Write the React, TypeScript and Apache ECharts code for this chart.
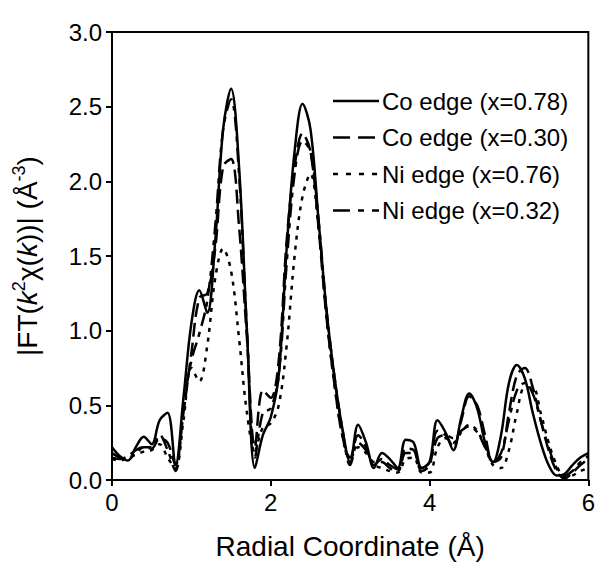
import React, { useEffect, useRef } from "react";
import * as echarts from "echarts";

const radius = [
  0.0, 0.1, 0.2, 0.3, 0.4, 0.5, 0.6, 0.7, 0.8, 0.9,
  1.0, 1.1, 1.2, 1.3, 1.4, 1.5, 1.6, 1.7, 1.8, 1.9,
  2.0, 2.1, 2.2, 2.3, 2.4, 2.5, 2.6, 2.7, 2.8, 2.9,
  3.0, 3.1, 3.2, 3.3, 3.4, 3.5, 3.6, 3.7, 3.8, 3.9,
  4.0, 4.1, 4.2, 4.3, 4.4, 4.5, 4.6, 4.7, 4.8, 4.9,
  5.0, 5.1, 5.2, 5.3, 5.4, 5.5, 5.6, 5.7, 5.8, 5.9, 6.0,
];

const coEdge078 = [
  0.22, 0.16, 0.13, 0.22, 0.29, 0.24, 0.40, 0.45, 0.10, 0.55,
  1.05, 1.27, 1.12, 1.60, 2.35, 2.62, 2.10, 1.00, 0.08, 0.30,
  0.42, 0.70, 1.55, 2.20, 2.52, 2.35, 1.75, 1.15, 0.70, 0.35,
  0.12, 0.37, 0.25, 0.08, 0.18, 0.14, 0.08, 0.27, 0.25, 0.08,
  0.12, 0.40, 0.32, 0.20, 0.42, 0.58, 0.48, 0.25, 0.12, 0.30,
  0.65, 0.77, 0.68, 0.45, 0.25, 0.10, 0.03, 0.04, 0.10, 0.15, 0.18,
];

const coEdge030 = [
  0.15, 0.14, 0.16, 0.20, 0.22, 0.21, 0.28, 0.25, 0.10, 0.45,
  0.85, 1.22, 1.25, 1.55, 2.10, 2.15, 1.70, 0.95, 0.22, 0.60,
  0.55, 0.80, 1.60, 2.10, 2.32, 2.20, 1.70, 1.10, 0.65, 0.30,
  0.15, 0.30, 0.22, 0.10, 0.14, 0.10, 0.07, 0.21, 0.20, 0.06,
  0.10, 0.33, 0.30, 0.22, 0.40, 0.56, 0.50, 0.30, 0.12, 0.15,
  0.45, 0.70, 0.75, 0.62, 0.40, 0.20, 0.06, 0.01, 0.05, 0.10, 0.14,
];

const niEdge076 = [
  0.14, 0.13, 0.15, 0.17, 0.19, 0.20, 0.24, 0.15, 0.08, 0.40,
  0.75, 0.66, 0.90, 1.35, 1.55, 1.40, 0.95, 0.45, 0.20, 0.35,
  0.38, 0.50, 0.90, 1.50, 1.90, 2.05, 1.70, 1.10, 0.65, 0.30,
  0.14, 0.22, 0.18, 0.10, 0.08, 0.06, 0.05, 0.14, 0.15, 0.05,
  0.05, 0.22, 0.28, 0.25, 0.32, 0.37, 0.33, 0.22, 0.10, 0.08,
  0.20, 0.45, 0.62, 0.62, 0.45, 0.25, 0.10, 0.02, 0.03, 0.06, 0.08,
];

const niEdge032 = [
  0.18, 0.15, 0.14, 0.18, 0.22, 0.22, 0.30, 0.20, 0.06, 0.50,
  0.80, 0.98, 1.20, 1.70, 2.35, 2.55, 2.05, 1.00, 0.15, 0.45,
  0.48, 0.70, 1.45, 2.05, 2.27, 2.20, 1.75, 1.15, 0.70, 0.35,
  0.10, 0.25, 0.20, 0.12, 0.12, 0.08, 0.06, 0.18, 0.18, 0.08,
  0.12, 0.28, 0.30, 0.28, 0.33, 0.36, 0.32, 0.22, 0.12, 0.18,
  0.40, 0.60, 0.65, 0.58, 0.40, 0.22, 0.08, 0.03, 0.06, 0.12, 0.16,
];

const seriesNames = [
  "Co edge (x=0.78)",
  "Co edge (x=0.30)",
  "Ni edge (x=0.76)",
  "Ni edge (x=0.32)",
];

const FONT = "'Liberation Sans', Arial, Helvetica, sans-serif";

export default function App() {
  const ref = useRef<HTMLDivElement>(null);

  useEffect(() => {
    if (!ref.current) return;
    const chart = echarts.init(ref.current, undefined, { renderer: "svg" });

    const pairs = (vals: number[]) => radius.map((r, i) => [r, vals[i]]);
    const dashes: any[] = ["solid", [14, 6], [4, 6], [14, 6, 5, 6]];
    const legendDash: any[] = [null, [17, 8], [5, 8], [17, 8, 6, 8]];
    const allData = [coEdge078, coEdge030, niEdge076, niEdge032];

    const series = allData.map((vals, i) => ({
      name: seriesNames[i],
      type: "line",
      data: pairs(vals),
      smooth: 0.35,
      showSymbol: false,
      symbol: "none",
      lineStyle: { color: "#000", width: 2.5, type: dashes[i] },
      itemStyle: { color: "#000" },
    }));

    const legendTop = 101;
    const legendStep = 36.5;
    const legendGraphics: any[] = [];
    seriesNames.forEach((name, i) => {
      const y = legendTop + i * legendStep;
      const lineStyle: any = { stroke: "#000", lineWidth: 2.5 };
      if (legendDash[i]) lineStyle.lineDash = legendDash[i];
      legendGraphics.push({
        type: "line",
        shape: { x1: 333, y1: y, x2: 379, y2: y },
        style: lineStyle,
      });
      legendGraphics.push({
        type: "text",
        x: 382,
        y: y,
        style: {
          text: name,
          font: `24px ${FONT}`,
          fill: "#000",
          textVerticalAlign: "middle",
          verticalAlign: "middle",
        },
      });
    });

    chart.setOption({
      animation: false,
      backgroundColor: "#fff",
      textStyle: { fontFamily: FONT, color: "#000" },
      grid: {
        left: 112,
        right: 8,
        top: 32,
        bottom: 92,
        show: true,
        borderColor: "#000",
        borderWidth: 2,
        containLabel: false,
      },
      graphic: legendGraphics,
      xAxis: {
        type: "value",
        min: 0,
        max: 6,
        interval: 2,
        name: "Radial Coordinate (Å)",
        nameLocation: "middle",
        nameGap: 52,
        nameTextStyle: { fontFamily: FONT, fontSize: 28, color: "#000" },
        axisLine: { lineStyle: { color: "#000", width: 2 } },
        axisTick: { show: true, inside: false, length: 6, lineStyle: { color: "#000", width: 2 } },
        axisLabel: { fontFamily: FONT, fontSize: 24, color: "#000", margin: 10 },
        splitLine: { show: false },
      },
      yAxis: {
        type: "value",
        min: 0,
        max: 3,
        interval: 0.5,
        name: "{a||FT(}{i|k}{s|2}{a|χ(}{i|k}{a|))| (Å}{s|-3}{a|)}",
        nameLocation: "middle",
        nameRotate: 90,
        nameGap: 68,
        nameTextStyle: {
          fontFamily: FONT,
          fontSize: 28,
          color: "#000",
          rich: {
            a: { fontFamily: FONT, fontSize: 28, color: "#000", lineHeight: 34 },
            i: { fontFamily: FONT, fontSize: 28, color: "#000", fontStyle: "italic", lineHeight: 34 },
            s: { fontFamily: FONT, fontSize: 18, color: "#000", verticalAlign: "top", lineHeight: 22 },
          },
        },
        axisLine: { lineStyle: { color: "#000", width: 2 } },
        axisTick: { show: true, inside: false, length: 6, lineStyle: { color: "#000", width: 2 } },
        axisLabel: {
          fontFamily: FONT,
          fontSize: 24,
          color: "#000",
          margin: 10,
          formatter: (v: number) => v.toFixed(1),
        },
        splitLine: { show: false },
      },
      series,
    });

    return () => chart.dispose();
  }, []);

  return (
    <div
      ref={ref}
      style={{ position: "fixed", left: 0, top: 0, width: 598, height: 572, background: "#fff" }}
    />
  );
}
